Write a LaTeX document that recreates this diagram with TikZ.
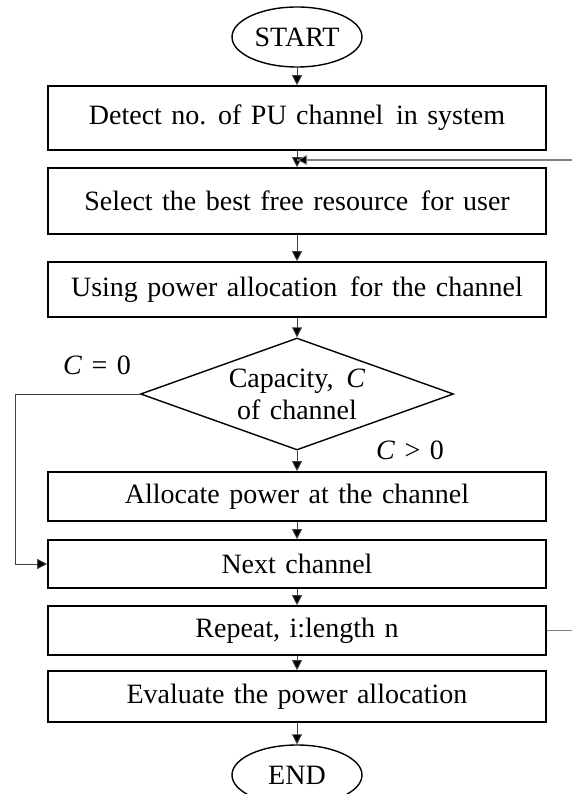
\documentclass[tikz,border=0pt]{standalone}
\usepackage{fontspec}
\setmainfont{Liberation Serif}[WordSpace=1.35]
\usetikzlibrary{shapes.geometric,arrows.meta}

\newcommand{\gap}{\hspace{0.12em} }

\begin{document}
\begin{tikzpicture}[x=1pt, y=-1pt,
  every node/.style={font=\fontsize{28}{32}\selectfont, inner sep=0pt},
  box/.style={rectangle, draw=black, line width=1.6pt, minimum width=498pt},
  term/.style={ellipse, draw=black, line width=1.4pt, minimum width=130pt, minimum height=60pt},
  dec/.style={diamond, draw=black, line width=1.4pt, aspect=2.8, align=center, minimum width=313pt, minimum height=112pt},
  arr/.style={draw=black!75, line width=0.9pt, -{Triangle[length=10pt, width=10pt, fill=black]}},
  back/.style={draw=black!50, line width=1.1pt}]

\useasboundingbox (0,0) rectangle (571,794);

% Start / End
\node[term] (start) at (297,37) {START};
\node[term] (stop) at (297,775) {END};

% Steps
\node[box, minimum height=64pt] (detect) at (297,118) {Detect no. of PU channel\gap in system};
\node[box, minimum height=66pt] (select) at (297,201) {Select the best free resource\gap for user};
\node[box, minimum height=55pt] (using) at (297,289.5) {Using power allocation\gap for the channel};
\node[dec] (cap) at (297,394) {Capacity,\gap \textit{C}\\of channel};
\node[box, minimum height=49pt] (alloc) at (297,496.5) {Allocate power at the channel};
\node[box, minimum height=48pt] (next) at (297,564) {Next channel};
\node[box, minimum height=49pt] (rep) at (297,630.5) {Repeat, i:length n};
\node[box, minimum height=51pt] (eval) at (297,696.5) {Evaluate the power allocation};

% Branch labels
\node (c0) at (97,365) {\textit{C} = 0};
\node (c1) at (410,450) {\textit{C} > 0};

\coordinate (join) at (297,160);
\coordinate (rr) at (585,630.5);
\coordinate (ll) at (15,394);

% Main flow
\draw[arr] (start) -- (detect);
\draw[arr] (detect) -- (select);
\draw[arr] (select) -- (using);
\draw[arr] (using) -- (cap);
\draw[arr] (cap) -- (alloc);
\draw[arr] (alloc) -- (next);
\draw[arr] (next) -- (rep);
\draw[arr] (rep) -- (eval);
\draw[arr] (eval) -- (stop);

% C = 0 goes straight to the next channel
\draw[arr] (cap.west) -- (ll) |- (next.west);

% Loop back
\draw[back] (rep.east) -- (rr) |- (join);
\draw[arr, draw=black!50] (rr |- join) -- (join);

\end{tikzpicture}
\end{document}
